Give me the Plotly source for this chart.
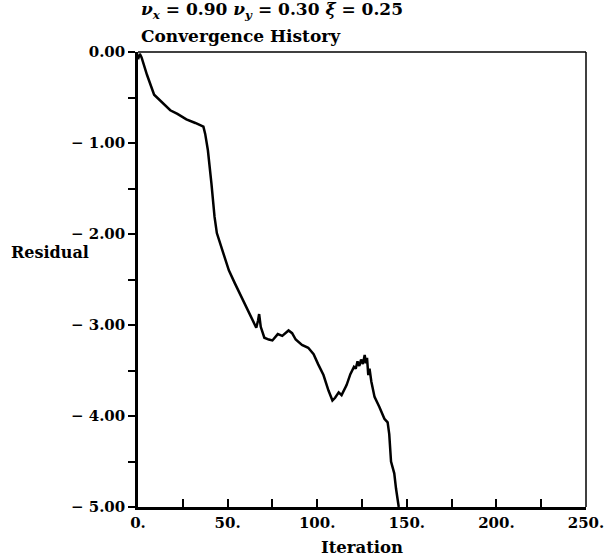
import plotly.graph_objects as go

# Data (iteration, log residual)
iteration = [0, 1, 2, 5, 9, 13, 18, 22, 27, 32, 36.5, 37.5, 39, 41, 42.7, 44, 46.3, 48.5,
             50.7, 54, 57.7, 60, 63, 65, 66, 67, 67.6, 68.5, 70.5, 73, 75, 78, 80.5, 84,
             86, 88, 91.5, 95, 98, 100.5, 103.5, 106.3, 108.5, 110, 112, 113.6, 116.4,
             118.5, 120.5, 121.5, 122.5, 123.5, 124.5, 125.5, 126.5, 127.2, 127.8, 128.5,
             129.2, 130.2, 132, 134.7, 137.5, 139.3, 140.2, 141.2, 143, 144, 145.5]
residual = [-0.08, -0.02, -0.06, -0.25, -0.47, -0.55, -0.64, -0.68, -0.74, -0.78, -0.82,
            -0.90, -1.08, -1.45, -1.81, -1.99, -2.13, -2.25, -2.40, -2.54, -2.69, -2.80,
            -2.92, -3.00, -3.03, -2.95, -2.88, -3.02, -3.14, -3.16, -3.17, -3.10, -3.12,
            -3.06, -3.09, -3.16, -3.22, -3.25, -3.32, -3.43, -3.55, -3.72, -3.83, -3.80,
            -3.74, -3.77, -3.66, -3.54, -3.46, -3.48, -3.40, -3.45, -3.38, -3.43, -3.33,
            -3.42, -3.36, -3.55, -3.48, -3.62, -3.79, -3.90, -4.03, -4.07, -4.20, -4.50,
            -4.63, -4.80, -5.00]

x_tickvals = [0, 50, 100, 150, 200, 250]
x_ticktext = ["0.", "50.", "100.", "150.", "200.", "250."]
y_tickvals = [0, -1, -2, -3, -4, -5]
y_ticktext = ["0.00", "\u2212 1.00", "\u2212 2.00", "\u2212 3.00", "\u2212 4.00", "\u2212 5.00"]

title_line1 = "<i>\u03bd<sub>x</sub></i> = 0.90 <i>\u03bd<sub>y</sub></i> = 0.30 <i>\u03be</i> = 0.25"
title_line2 = "Convergence History"
x_label = "Iteration"
y_label = "Residual"

FONT = dict(family="DejaVu Serif", size=15, color="black", weight="bold")
TITLE_FONT = dict(FONT, size=17)
LABEL_FONT = dict(FONT, size=16.5)
YLABEL_FONT = dict(FONT, size=16)

fig = go.Figure()
fig.add_trace(go.Scatter(x=iteration, y=residual, mode="lines",
                         line=dict(color="black", width=2.5), showlegend=False,
                         hoverinfo="skip"))

fig.update_layout(
    width=616, height=560,
    margin=dict(l=138, r=23, t=52, b=53),
    paper_bgcolor="white", plot_bgcolor="white",
    font=FONT,
    xaxis=dict(range=[0, 250], tickvals=x_tickvals, ticktext=x_ticktext,
               ticks="inside", ticklen=8, tickwidth=2, tickcolor="black",
               minor=dict(dtick=25, ticks="inside", ticklen=8, tickwidth=2,
                          tickcolor="black", showgrid=False),
               showline=True, linecolor="black", linewidth=2.5,
               showgrid=False, zeroline=False, tickfont=FONT),
    yaxis=dict(range=[-5, 0], tickvals=y_tickvals, ticktext=y_ticktext,
               ticks="outside", ticklen=7, tickwidth=2, tickcolor="black",
               minor=dict(dtick=0.5, ticks="outside", ticklen=7, tickwidth=2,
                          tickcolor="black", showgrid=False),
               showline=True, linecolor="black", linewidth=2.5,
               showgrid=False, zeroline=False, tickfont=FONT),
    shapes=[
        dict(type="line", xref="paper", yref="paper", x0=0, x1=1, y0=1, y1=1,
             line=dict(color="black", width=1.5)),
        dict(type="line", xref="paper", yref="paper", x0=1, x1=1, y0=0, y1=1,
             line=dict(color="black", width=1.5)),
    ],
    annotations=[
        dict(text=title_line1, xref="paper", yref="paper", x=0.003, y=1.092,
             xanchor="left", yanchor="middle", showarrow=False, font=TITLE_FONT),
        dict(text=title_line2, xref="paper", yref="paper", x=0.003, y=1.035,
             xanchor="left", yanchor="middle", showarrow=False, font=TITLE_FONT),
        dict(text=x_label, xref="paper", yref="paper", x=0.5, y=-0.089,
             xanchor="center", yanchor="middle", showarrow=False, font=LABEL_FONT),
        dict(text=y_label, xref="paper", yref="paper", x=-0.287, y=0.559,
             xanchor="left", yanchor="middle", showarrow=False, font=YLABEL_FONT),
    ],
)

fig.write_html("out.html")
